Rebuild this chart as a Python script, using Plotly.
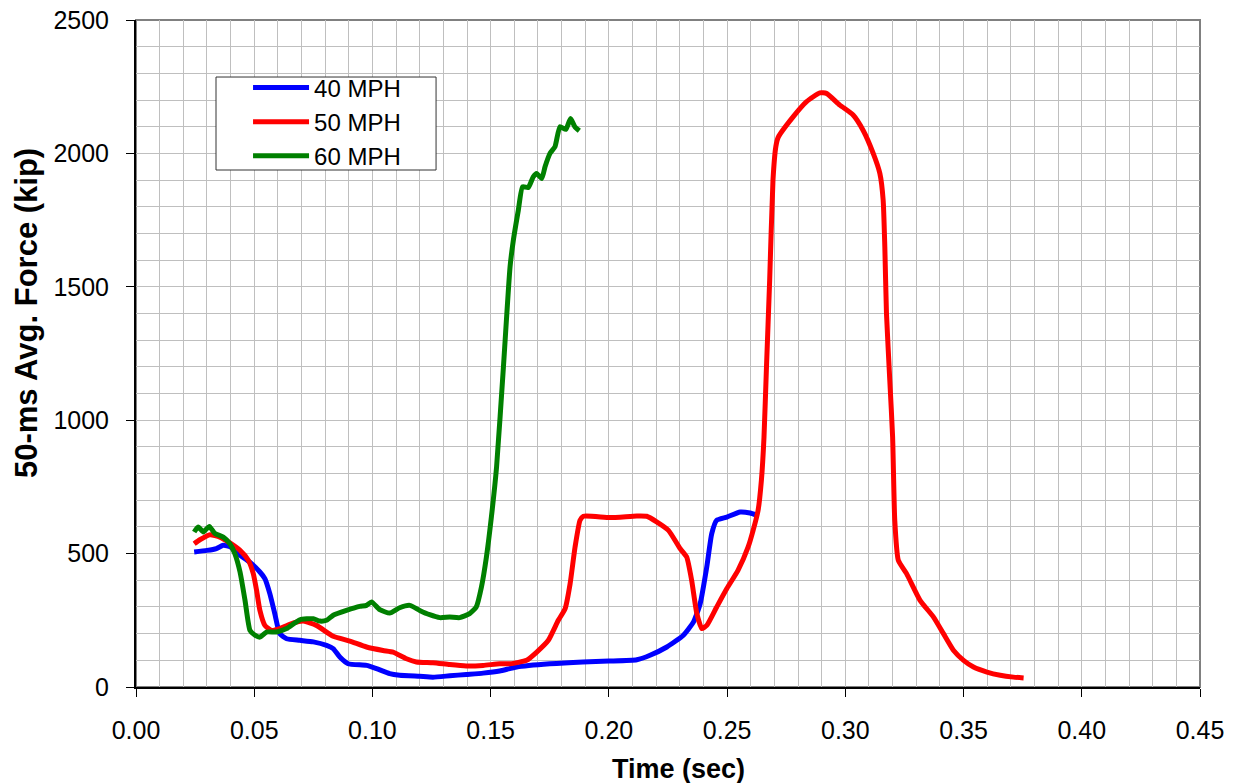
import plotly.graph_objects as go

# 40 MPH (blue)
t40 = [0.0246, 0.030, 0.034, 0.0369, 0.040, 0.044, 0.048, 0.0524, 0.0545, 0.0566, 0.0587, 0.0608,
       0.0637, 0.0693, 0.075, 0.0806, 0.0834, 0.0862, 0.0897, 0.0975, 0.1017, 0.1073, 0.1115, 0.120,
       0.1256, 0.1327, 0.1397, 0.1468, 0.1538, 0.161, 0.175, 0.189, 0.200, 0.2118, 0.2174, 0.2245,
       0.2315, 0.2358, 0.2386, 0.2414, 0.2435, 0.2456, 0.2499, 0.2555, 0.2597, 0.2624]
f40 = [506, 512, 519, 531, 525, 494, 469, 431, 406, 350, 275, 200,
       181, 175, 169, 156, 144, 112, 87, 81, 69, 50, 44, 40,
       37, 42, 47, 52, 60, 75, 87, 94, 97, 102, 119, 150,
       194, 244, 312, 450, 575, 625, 637, 656, 652, 644]

# 50 MPH (red)
t50 = [0.0246, 0.027, 0.0313, 0.0355, 0.0397, 0.044, 0.0475, 0.0496, 0.051, 0.0524, 0.0545, 0.0573,
       0.0608, 0.065, 0.0707, 0.0763, 0.0834, 0.0904, 0.0975, 0.1045, 0.1087, 0.1144, 0.1186, 0.1256,
       0.1327, 0.1397, 0.1468, 0.1538, 0.1582, 0.1652, 0.1695, 0.1744, 0.1786, 0.1815, 0.1836, 0.1857,
       0.1878, 0.1892, 0.2005, 0.2118, 0.216, 0.2202, 0.2252, 0.2301, 0.2329, 0.235, 0.2372, 0.2393,
       0.2414, 0.2456, 0.2499, 0.2546, 0.2589, 0.261, 0.2631, 0.2645, 0.2656, 0.2666, 0.268, 0.2694,
       0.2706, 0.2716, 0.2779, 0.2836, 0.2892, 0.292, 0.2977, 0.3033, 0.3075, 0.3118, 0.3146, 0.316,
       0.3167, 0.3174, 0.3188, 0.320, 0.3209, 0.3224, 0.3259, 0.3316, 0.3373, 0.3415, 0.3458, 0.350,
       0.3542, 0.3599, 0.3655, 0.3711, 0.3754]
f50 = [537, 552, 571, 562, 540, 512, 475, 425, 362, 287, 231, 212,
       219, 235, 247, 231, 190, 172, 150, 137, 131, 106, 94, 91,
       84, 79, 81, 87, 87, 100, 131, 175, 250, 294, 387, 525,
       625, 640, 635, 641, 640, 619, 587, 519, 487, 400, 275, 219,
       231, 300, 369, 437, 525, 587, 662, 775, 937, 1187, 1525, 1900,
       2025, 2060, 2137, 2194, 2227, 2225, 2181, 2144, 2087, 2000, 1925, 1825,
       1650, 1400, 1150, 937, 625, 475, 425, 325, 262, 200, 137, 100,
       75, 56, 44, 37, 34]

# 60 MPH (green)
t60 = [0.0246, 0.0263, 0.0285, 0.031, 0.0334, 0.0369, 0.0397, 0.0418, 0.044, 0.0461, 0.0482, 0.0503,
       0.0524, 0.0552, 0.0594, 0.0637, 0.0693, 0.075, 0.0777, 0.0806, 0.0834, 0.089, 0.0946, 0.0975,
       0.0996, 0.1031, 0.1073, 0.1115, 0.1158, 0.120, 0.1242, 0.1285, 0.1327, 0.1369, 0.1411, 0.1439,
       0.1461, 0.1482, 0.1503, 0.1525, 0.1554, 0.1582, 0.1596, 0.1617, 0.1635, 0.1659, 0.168, 0.1694,
       0.1716, 0.173, 0.1751, 0.1772, 0.1793, 0.1818, 0.1838, 0.1856, 0.1875]
f60 = [581, 600, 581, 602, 575, 562, 537, 500, 431, 325, 212, 194,
       187, 206, 206, 219, 252, 256, 247, 250, 269, 287, 302, 306,
       319, 290, 277, 297, 306, 287, 271, 260, 262, 260, 275, 300,
       375, 487, 637, 825, 1200, 1575, 1675, 1787, 1875, 1872, 1912, 1925,
       1906, 1950, 2000, 2025, 2100, 2090, 2131, 2100, 2085]

series_names = ["40 MPH", "50 MPH", "60 MPH"]
series_colors = ["#0000FF", "#FF0000", "#008000"]
x_ticks = [0.00, 0.05, 0.10, 0.15, 0.20, 0.25, 0.30, 0.35, 0.40, 0.45]
x_tick_labels = ["0.00", "0.05", "0.10", "0.15", "0.20", "0.25", "0.30", "0.35", "0.40", "0.45"]
y_ticks = [0, 500, 1000, 1500, 2000, 2500]
x_title = "Time (sec)"
y_title = "50-ms Avg. Force (kip)"

fig = go.Figure()
for t, f, name, col in zip([t40, t50, t60], [f40, f50, f60], series_names, series_colors):
    fig.add_trace(go.Scatter(x=t, y=f, mode="lines", name=name,
                             line=dict(color=col, width=5, shape="spline", smoothing=0.5)))

grid_col = "#bfbfbf"
fig.update_layout(
    width=1235, height=783,
    margin=dict(l=136, r=35, t=20, b=96, autoexpand=False),
    plot_bgcolor="white", paper_bgcolor="white",
    font=dict(family="Liberation Sans, Arial, sans-serif", size=25, color="black"),
    showlegend=True,
    legend=dict(x=0.1053, y=0.932, xanchor="left", yanchor="top",
                borderwidth=0, bgcolor="rgba(0,0,0,0)",
                font=dict(size=24), itemwidth=56, tracegroupgap=0),
    shapes=[
        dict(type="rect", xref="paper", yref="paper", x0=0, y0=0, x1=1, y1=1,
             line=dict(color="#808080", width=2), layer="below"),
        # legend frame
        dict(type="rect", xref="paper", yref="paper", x0=0.0752, y0=0.7751, x1=0.282, y1=0.9145,
             line=dict(color="#333333", width=1), fillcolor="white", layer="above"),
    ],
    annotations=[
        dict(text="<b>" + x_title + "</b>", xref="paper", yref="paper", x=0.5094, y=-0.1229,
             xanchor="center", yanchor="middle", showarrow=False, font=dict(size=27)),
        dict(text="<b>" + y_title + "</b>", xref="paper", yref="paper", x=-0.1034, y=0.5607,
             xanchor="center", yanchor="middle", showarrow=False, textangle=-90, font=dict(size=31)),
    ],
)
fig.update_xaxes(
    range=[0, 0.45], tickvals=x_ticks, ticktext=x_tick_labels,
    showgrid=True, gridcolor=grid_col, gridwidth=1,
    minor=dict(dtick=0.01, showgrid=True, gridcolor=grid_col, gridwidth=1),
    showline=True, linecolor="black", linewidth=2,
    ticks="outside", ticklen=8, tickcolor="black", tickwidth=1,
    ticklabelstandoff=12, ticklabeloverflow="allow", automargin=False,
    zeroline=False,
)
fig.update_yaxes(
    range=[0, 2500], tickvals=y_ticks,
    showgrid=True, gridcolor=grid_col, gridwidth=1,
    minor=dict(dtick=100, showgrid=True, gridcolor=grid_col, gridwidth=1),
    showline=True, linecolor="black", linewidth=2,
    ticks="outside", ticklen=8, tickcolor="black", tickwidth=1,
    ticklabelstandoff=12, ticklabeloverflow="allow", automargin=False,
    zeroline=False,
)

fig.write_html("out.html", config={"displayModeBar": False},
               post_script="document.body.style.margin='0';")
